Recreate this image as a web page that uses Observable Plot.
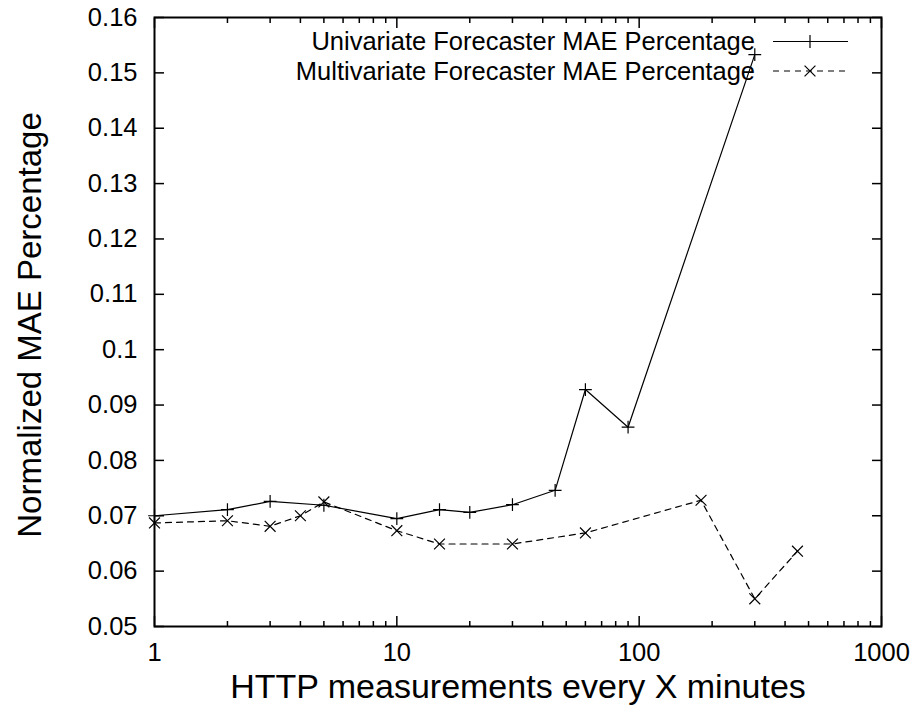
<!DOCTYPE html>
<html>
<head>
<meta charset="utf-8">
<script src="https://cdn.jsdelivr.net/npm/d3@7"></script>
<script src="https://cdn.jsdelivr.net/npm/@observablehq/plot@0.6"></script>
<style>
  html, body { margin: 0; padding: 0; background: #fff; }
  svg { display: block; }
</style>
</head>
<body>
<div id="chart"></div>
<script>
// ---- data ----
const uniX = [1, 2, 3, 5, 10, 15, 20, 30, 45, 60, 90, 300];
const uniY = [0.0700, 0.0711, 0.0726, 0.0719, 0.0695, 0.0711, 0.0706, 0.0720, 0.0746, 0.0928, 0.0860, 0.1533];
const multiX = [1, 2, 3, 4, 5, 10, 15, 30, 60, 180, 300, 450];
const multiY = [0.0687, 0.0691, 0.0681, 0.0700, 0.0725, 0.0673, 0.0649, 0.0649, 0.0669, 0.0728, 0.0550, 0.0636];
const seriesNames = ["Univariate Forecaster MAE Percentage", "Multivariate Forecaster MAE Percentage"];
const xMajor = [1, 10, 100, 1000];
const xMinor = [2, 3, 4, 5, 6, 7, 8, 9, 20, 30, 40, 50, 60, 70, 80, 90, 200, 300, 400, 500, 600, 700, 800, 900];
const yTicks = [0.05, 0.06, 0.07, 0.08, 0.09, 0.1, 0.11, 0.12, 0.13, 0.14, 0.15, 0.16];
const xTitle = "HTTP measurements every X minutes";
const yTitle = "Normalized MAE Percentage";

const uni = uniX.map((x, i) => ({x, y: uniY[i]}));
const multi = multiX.map((x, i) => ({x, y: multiY[i]}));

const FONT = "'Liberation Sans', Arial, Helvetica, sans-serif";
const PLUS_R = 4.2, TIMES_R = 5, DASH = "6,5";

const empty = () => "";
const plot = Plot.plot({
  width: 915,
  height: 709,
  marginLeft: 154,
  marginRight: 34,
  marginTop: 17,
  marginBottom: 83,
  style: {fontFamily: FONT, fontSize: "25.5px", color: "black", background: "white"},
  x: {type: "log", domain: [1, 1000]},
  y: {domain: [0.05, 0.16]},
  marks: [
    // inward ticks
    Plot.axisX(xMajor, {anchor: "bottom", tickSize: -10, tickFormat: empty, label: null, strokeWidth: 1.5}),
    Plot.axisX(xMinor, {anchor: "bottom", tickSize: -5, tickFormat: empty, label: null, strokeWidth: 1.5}),
    Plot.axisX(xMajor, {anchor: "top", tickSize: -10, tickFormat: empty, label: null, strokeWidth: 1.5}),
    Plot.axisX(xMinor, {anchor: "top", tickSize: -5, tickFormat: empty, label: null, strokeWidth: 1.5}),
    Plot.axisY(yTicks, {anchor: "left", tickSize: -10, tickFormat: empty, label: null, strokeWidth: 1.5}),
    Plot.axisY(yTicks, {anchor: "right", tickSize: -10, tickFormat: empty, label: null, strokeWidth: 1.5}),
    // tick labels
    Plot.axisX(xMajor, {anchor: "bottom", tickSize: 0, tickPadding: 16, tickFormat: d => String(d), label: null}),
    Plot.axisY(yTicks, {anchor: "left", tickSize: 0, tickPadding: 17, tickFormat: d => String(d), label: null}),
    // axis titles
    Plot.text([xTitle], {text: d => d, frameAnchor: "bottom", dy: 61, lineAnchor: "middle", fontSize: 34, fill: "black"}),
    Plot.text([yTitle], {text: d => d, frameAnchor: "left", textAnchor: "middle", dx: -124, dy: 3, rotate: -90, lineAnchor: "middle", fontSize: 33, fill: "black"}),
    // data
    Plot.line(uni, {x: "x", y: "y", stroke: "black", strokeWidth: 1.2}),
    Plot.dot(uni, {x: "x", y: "y", symbol: "plus", r: PLUS_R, stroke: "black", strokeWidth: 1.2}),
    Plot.line(multi, {x: "x", y: "y", stroke: "black", strokeWidth: 1.2, strokeDasharray: DASH}),
    Plot.dot(multi, {x: "x", y: "y", symbol: "times", r: TIMES_R, stroke: "black", strokeWidth: 1.2}),
    Plot.frame({stroke: "black", strokeWidth: 2})
  ]
});
document.getElementById("chart").appendChild(plot);

// ---- legend (inside plot, top right, gnuplot style) ----
const svg = d3.select(plot);
const leg = svg.append("g").attr("class", "legend");
const legendRows = [
  {name: seriesNames[0], sym: d3.symbolPlus, r: PLUS_R, dash: null},
  {name: seriesNames[1], sym: d3.symbolTimes, r: TIMES_R, dash: DASH}
];
legendRows.forEach((row, i) => {
  const cy = 41.5 + i * 29.5;
  leg.append("text")
    .attr("x", 755).attr("y", cy).attr("dy", "0.35em")
    .attr("text-anchor", "end")
    .attr("font-family", FONT).attr("font-size", 25.5).attr("fill", "black")
    .text(row.name);
  leg.append("line")
    .attr("x1", 773).attr("x2", 848).attr("y1", cy).attr("y2", cy)
    .attr("stroke", "black").attr("stroke-width", 1.2)
    .attr("stroke-dasharray", row.dash);
  leg.append("path")
    .attr("transform", `translate(810,${cy})`)
    .attr("d", d3.symbol(row.sym, Math.PI * row.r * row.r)())
    .attr("fill", "none").attr("stroke", "black").attr("stroke-width", 1.2);
});
</script>
</body>
</html>
